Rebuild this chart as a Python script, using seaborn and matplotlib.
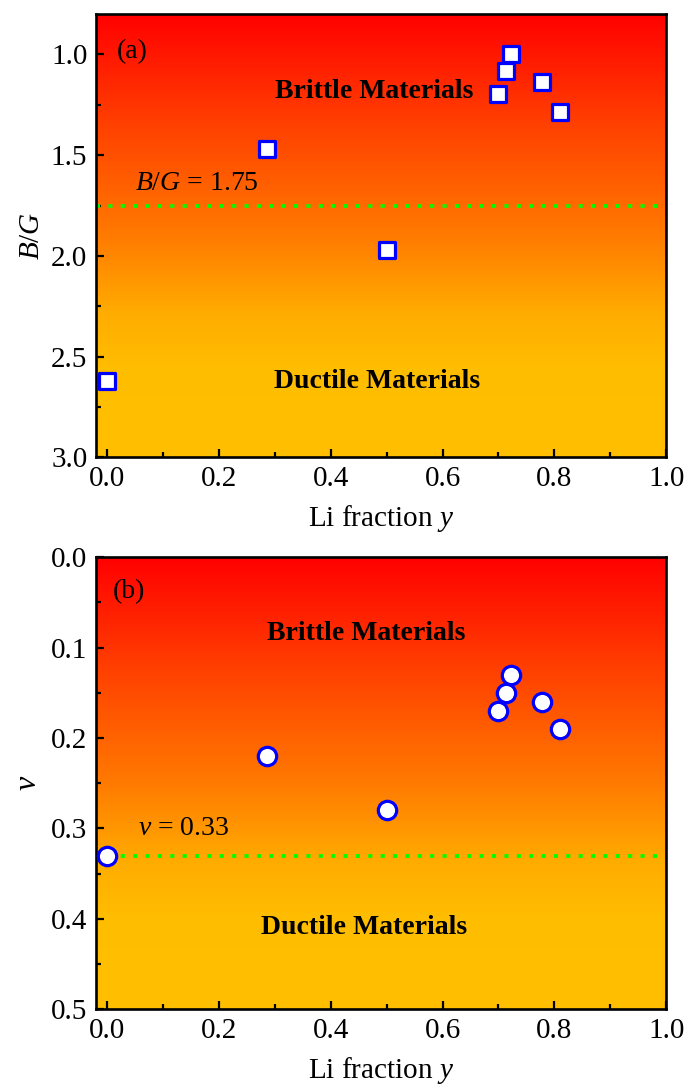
import numpy as np
import matplotlib
matplotlib.use("Agg")
import matplotlib.pyplot as plt
from matplotlib.colors import LinearSegmentedColormap
from matplotlib.ticker import MultipleLocator
import pandas as pd
import seaborn as sns

# Li fraction and elastic indicators
li_fraction = [0.0, 0.286, 0.5, 0.70, 0.714, 0.722, 0.778, 0.81]
bg_ratio = [2.62, 1.47, 1.97, 1.195, 1.08, 1.00, 1.137, 1.286]
poisson = [0.33, 0.22, 0.28, 0.17, 0.15, 0.13, 0.16, 0.19]

bg_critical = 1.75
nu_critical = 0.33

x_ticks = [0.0, 0.2, 0.4, 0.6, 0.8, 1.0]
bg_ticks = [1.0, 1.5, 2.0, 2.5, 3.0]
nu_ticks = [0.0, 0.1, 0.2, 0.3, 0.4, 0.5]

sns.set_theme(style="ticks")
plt.rcParams["font.family"] = ["Liberation Serif", "DejaVu Serif"]
plt.rcParams["mathtext.fontset"] = "custom"
plt.rcParams["mathtext.rm"] = "Liberation Serif"
plt.rcParams["mathtext.it"] = "Liberation Serif:italic"
plt.rcParams["mathtext.bf"] = "Liberation Serif:bold"
plt.rcParams["text.color"] = "black"
plt.rcParams["axes.labelcolor"] = "black"
plt.rcParams["xtick.color"] = "black"
plt.rcParams["ytick.color"] = "black"

df = pd.DataFrame({"li": li_fraction, "bg": bg_ratio, "nu": poisson})

# red -> orange -> gold background gradient (top to bottom)
grad_cmap = LinearSegmentedColormap.from_list(
    "brittle_ductile",
    [(0.0, "#ff0000"), (0.25, "#ff4000"), (0.5, "#ff7a00"),
     (0.68, "#ffad00"), (0.8, "#ffbd00"), (1.0, "#ffc000")])

fig = plt.figure(figsize=(6.84, 10.84), dpi=100)
ax_a = fig.add_axes([0.140, 0.578, 0.834, 0.409])
ax_b = fig.add_axes([0.140, 0.069, 0.834, 0.417])

TICK_FS = 21
LABEL_FS = 21
REGION_FS = 20
NOTE_FS = 20

LINE_KW = dict(color="#00ff00", lw=2.7, ls=(0, (1.1, 2.2)), zorder=2)


def paint_background(ax):
    grad = np.linspace(0, 1, 512).reshape(-1, 1)
    ax.imshow(grad, cmap=grad_cmap, aspect="auto", extent=[0, 1, 0, 1],
              origin="upper", transform=ax.transAxes, zorder=0)


def style_axes(ax, xlim, ylim, yticks, yminor, fmt):
    ax.set_xlim(*xlim)
    ax.set_ylim(*ylim)
    ax.set_xticks(x_ticks)
    ax.set_xticklabels([f"{t:.1f}" for t in x_ticks])
    ax.xaxis.set_minor_locator(MultipleLocator(0.1))
    ax.set_yticks(yticks)
    ax.set_yticklabels([fmt.format(t) for t in yticks])
    ax.yaxis.set_minor_locator(MultipleLocator(yminor))
    ax.tick_params(which="both", direction="in", top=False, right=False,
                   width=1.6, colors="black", labelsize=TICK_FS, pad=6)
    ax.tick_params(which="major", length=6)
    ax.tick_params(which="minor", length=3.5)
    for s in ax.spines.values():
        s.set_linewidth(1.9)
        s.set_color("black")
        s.set_visible(True)
    ax.set_xlabel("Li fraction $y$", fontsize=LABEL_FS, labelpad=8)


# panel (a): B/G ratio
paint_background(ax_a)
ax_a.axhline(bg_critical, **LINE_KW)
sns.scatterplot(data=df, x="li", y="bg", ax=ax_a, marker="s", s=135,
                color="white", edgecolor="#0000ff", linewidth=2.3, zorder=3,
                legend=False)
style_axes(ax_a, (-0.02, 1.0), (3.0, 0.8), bg_ticks, 0.25, "{:.1f}")
ax_a.set_ylabel("$B/G$", fontsize=LABEL_FS, labelpad=4)
ax_a.text(0.037, 0.916, "(a)", transform=ax_a.transAxes, fontsize=NOTE_FS,
          va="center", ha="left")
ax_a.text(0.488, 0.825, "Brittle Materials", transform=ax_a.transAxes,
          fontsize=REGION_FS, fontweight="bold", ha="center", va="center")
ax_a.text(0.493, 0.172, "Ductile Materials", transform=ax_a.transAxes,
          fontsize=REGION_FS, fontweight="bold", ha="center", va="center")
ax_a.text(0.068, bg_critical - 0.045, f"$B/G$ = {bg_critical:.2f}",
          transform=ax_a.get_yaxis_transform(), fontsize=NOTE_FS,
          ha="left", va="bottom")

# panel (b): Poisson's ratio
paint_background(ax_b)
ax_b.axhline(nu_critical, **LINE_KW)
sns.scatterplot(data=df, x="li", y="nu", ax=ax_b, marker="o", s=175,
                color="white", edgecolor="#0000ff", linewidth=2.3, zorder=3,
                legend=False)
style_axes(ax_b, (-0.02, 1.0), (0.5, 0.0), nu_ticks, 0.05, "{:.1f}")
ax_b.set_ylabel(r"$\nu$", fontsize=LABEL_FS + 2, labelpad=6)
ax_b.text(0.03, 0.923, "(b)", transform=ax_b.transAxes, fontsize=NOTE_FS,
          va="center", ha="left")
ax_b.text(0.474, 0.832, "Brittle Materials", transform=ax_b.transAxes,
          fontsize=REGION_FS, fontweight="bold", ha="center", va="center")
ax_b.text(0.47, 0.181, "Ductile Materials", transform=ax_b.transAxes,
          fontsize=REGION_FS, fontweight="bold", ha="center", va="center")
ax_b.text(0.074, 0.40, rf"$\nu$ = {nu_critical:.2f}", transform=ax_b.transAxes,
          fontsize=NOTE_FS, ha="left", va="center")

fig.savefig("out.png", dpi=100)
